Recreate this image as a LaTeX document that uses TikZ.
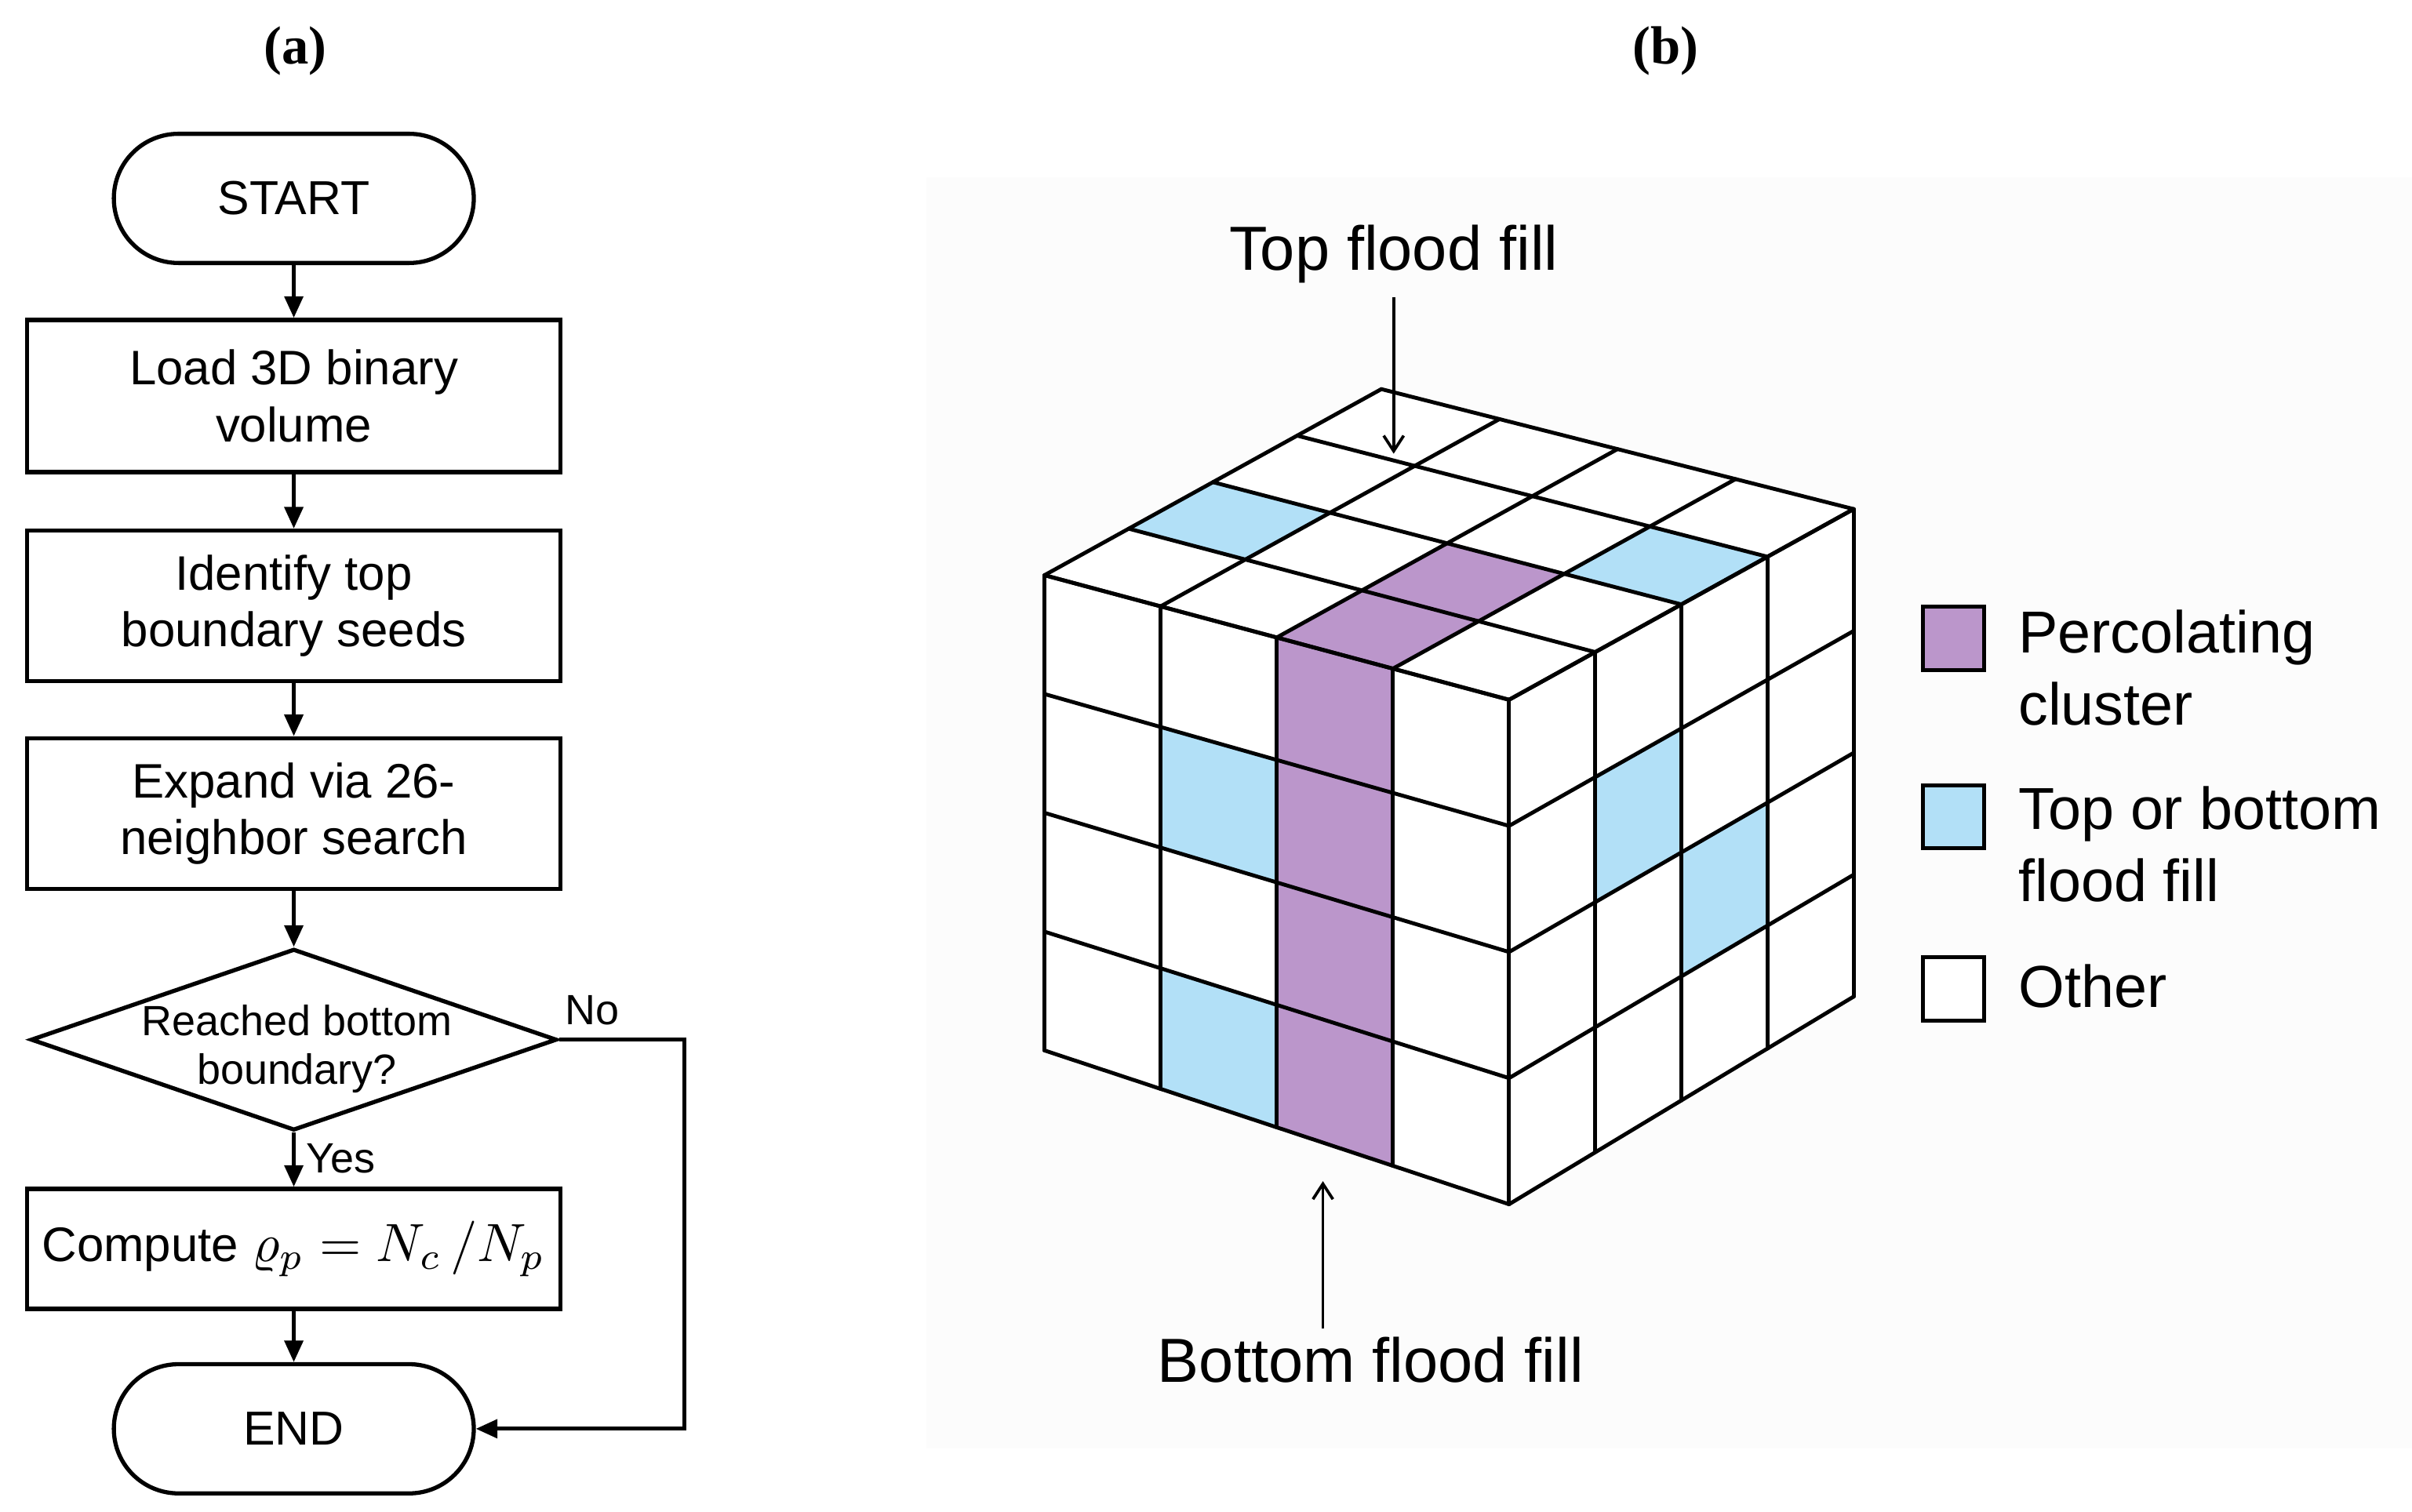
\documentclass[tikz,border=0pt]{standalone}
\usepackage{graphicx}
\usepackage{fontspec}
\setmainfont{Liberation Sans}
\newfontfamily\labfont{Liberation Serif}
\usetikzlibrary{shapes.geometric,arrows.meta,calc}
\definecolor{perc}{RGB}{187,150,203}
\definecolor{flood}{RGB}{178,224,247}
\definecolor{panelbg}{RGB}{252,252,252}
\newcommand\fsz[2]{\fontsize{#1}{#2}\selectfont}
\tikzset{
  box/.style={draw, line width=2.7pt, minimum width=347pt, inner sep=0pt, align=center, font=\fsz{31.5}{37}},
  term/.style={draw, line width=2.7pt, rounded corners=42pt, minimum width=234pt, minimum height=84pt, inner sep=0pt, font=\fsz{31}{37}},
  flow/.style={line width=2.5pt, -{Triangle[length=14pt,width=12pt]}},
  cubeline/.style={line width=2.5pt, line join=round, line cap=round},
  pointer/.style={line width=1.9pt, -{Straight Barb[length=10pt,width=13pt,line width=1.9pt]}},
  swatch/.style={draw, line width=2.6pt, minimum width=40pt, minimum height=41pt, inner sep=0pt},
  legtext/.style={anchor=west, align=left, inner sep=0pt, font=\fsz{38.5}{47}},
  panellab/.style={font=\labfont\bfseries\fsz{35}{40}, inner sep=0pt}
}
\begin{document}
\begin{tikzpicture}[x=1pt,y=-1pt]
\useasboundingbox (0,0) rectangle (1568,983);
\fill[panelbg] (602,115) rectangle (1568,942);

% panel labels
\node[panellab] (la) at (192,33) {(a)};
\node[panellab] (lb) at (1083,33) {(b)};

% ---------------- flowchart ----------------
\node[term] (start) at (191,129) {START};
\node[box, minimum height=99pt] (load) at (191,257.5) {Load 3D binary\\volume};
\node[box, minimum height=98pt] (ident) at (191,394) {Identify top\\boundary seeds};
\node[box, minimum height=98pt] (expand) at (191,529) {Expand via 26-\\neighbor search};
\node[diamond, draw, line width=2.7pt, minimum width=342pt, minimum height=118pt, inner sep=0pt] (dec) at (191,676) {};
\node[align=center, inner sep=0pt, font=\fsz{27.5}{32}] (dectext) at (193,682) {Reached bottom\\boundary?};
\node[box, minimum height=78pt] (comp) at (191,812) {Compute {\fsz{10}{12}\scalebox{3.5}{$\varrho_p = N_c\,/N_p$}}};
\node[term] (end) at (191,929) {END};

\draw[flow] (start) -- (load);
\draw[flow] (load) -- (ident);
\draw[flow] (ident) -- (expand);
\draw[flow] (expand) -- (dec);
\draw[flow] (dec) -- (comp);
\draw[flow] (comp) -- (end);
\coordinate (nocorner) at (445,676);
\draw[flow] (dec.east) -- (nocorner) |- (end.east);
\node[inner sep=0pt, font=\fsz{27.5}{32}] (nolab) at (385,657) {No};
\node[inner sep=0pt, anchor=west, font=\fsz{27.5}{32}] (yeslab) at (199,753) {Yes};

% ---------------- cube ----------------
\coordinate (Lt) at (679,374); \coordinate (Lb) at (679,683);
\coordinate (Ft) at (981,455); \coordinate (Fb) at (981,783);
\coordinate (Rt) at (1205,331); \coordinate (Rb) at (1205,648);
\coordinate (Bt) at (898,253);
\foreach \i in {0,...,4}{
  \coordinate (LT-\i) at ($(Lt)!\i/4!(Ft)$);
  \coordinate (LB-\i) at ($(Lb)!\i/4!(Fb)$);
  \coordinate (RT-\i) at ($(Ft)!\i/4!(Rt)$);
  \coordinate (RB-\i) at ($(Fb)!\i/4!(Rb)$);
  \coordinate (BT-\i) at ($(Bt)!\i/4!(Rt)$);
}
\foreach \i in {0,...,4}{
  \foreach \j in {0,...,4}{
    \coordinate (L-\i-\j) at ($(LT-\i)!\j/4!(LB-\i)$);
    \coordinate (R-\i-\j) at ($(RT-\i)!\j/4!(RB-\i)$);
    \coordinate (T-\i-\j) at ($(LT-\i)!\j/4!(BT-\i)$);
  }
}
% faces
\fill[white] (Lt) -- (Ft) -- (Fb) -- (Lb) -- cycle;
\fill[white] (Ft) -- (Rt) -- (Rb) -- (Fb) -- cycle;
\fill[white] (Lt) -- (Ft) -- (Rt) -- (Bt) -- cycle;
% coloured cells
\fill[perc] (L-2-0) -- (L-3-0) -- (L-3-4) -- (L-2-4) -- cycle;
\fill[flood] (L-1-1) -- (L-2-1) -- (L-2-2) -- (L-1-2) -- cycle;
\fill[flood] (L-1-3) -- (L-2-3) -- (L-2-4) -- (L-1-4) -- cycle;
\fill[flood] (R-1-1) -- (R-2-1) -- (R-2-2) -- (R-1-2) -- cycle;
\fill[flood] (R-2-2) -- (R-3-2) -- (R-3-3) -- (R-2-3) -- cycle;
\fill[perc] (T-2-0) -- (T-3-0) -- (T-3-2) -- (T-2-2) -- cycle;
\fill[flood] (T-0-1) -- (T-1-1) -- (T-1-2) -- (T-0-2) -- cycle;
\fill[flood] (T-3-2) -- (T-4-2) -- (T-4-3) -- (T-3-3) -- cycle;
% grid lines
\foreach \k in {0,...,4}{
  \draw[cubeline] (L-\k-0) -- (L-\k-4);
  \draw[cubeline] (L-0-\k) -- (L-4-\k);
  \draw[cubeline] (R-\k-0) -- (R-\k-4);
  \draw[cubeline] (R-0-\k) -- (R-4-\k);
  \draw[cubeline] (T-\k-0) -- (T-\k-4);
  \draw[cubeline] (T-0-\k) -- (T-4-\k);
}

% flood fill pointers
\node[inner sep=0pt, font=\fsz{40.5}{46}] (tff) at (906,165) {Top flood fill};
\coordinate (tfftip) at (906,295);
\draw[pointer, shorten <=9pt] (tff.south) -- (tfftip);
\node[inner sep=0pt, font=\fsz{40.5}{46}] (bff) at (891,884) {Bottom flood fill};
\coordinate (bfftip) at (860,768);
\draw[pointer, shorten <=5pt] (bff.north -| bfftip) -- (bfftip);

% ---------------- legend ----------------
\node[swatch, fill=perc] (sw1) at (1270,415) {};
\node[legtext] (lg1) at (1312,434) {Percolating\\cluster};
\node[swatch, fill=flood] (sw2) at (1270,531) {};
\node[legtext] (lg2) at (1312,549) {Top or bottom\\flood fill};
\node[swatch, fill=white] (sw3) at (1270,643) {};
\node[legtext] (lg3) at (1312,641) {Other};
\end{tikzpicture}
\end{document}
